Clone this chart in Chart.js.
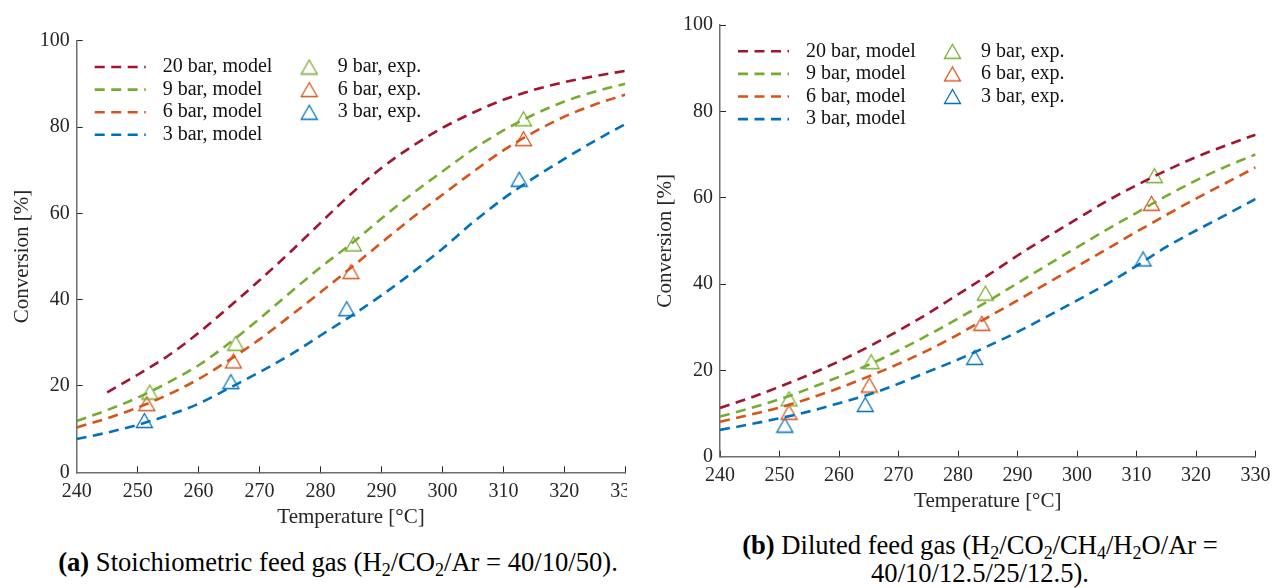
<!DOCTYPE html>
<html lang="en">
<head>
<meta charset="UTF-8">
<title>CO2 conversion vs. temperature</title>
<script src="https://cdn.jsdelivr.net/npm/chart.js"></script>
<style>
  body { margin: 0; background: #fff; width: 1284px; height: 588px; position: relative; overflow: hidden;
         font-family: "Liberation Serif", "DejaVu Serif", serif; }
  #panelA { position: absolute; left: 0; top: 0; width: 627px; height: 530px; overflow: hidden; }
  #panelB { position: absolute; left: 640px; top: 0; width: 644px; height: 514px; }
  .caption { position: absolute; font-size: 26.6px; line-height: 27.5px; color: #000; text-align: center; white-space: nowrap; }
  .caption sub { font-size: 18px; line-height: 0; vertical-align: -5px; }
  #capA { left: 38px; width: 600px; top: 549px; }
  #capB { left: 730px; width: 500px; top: 532px; }
</style>
</head>
<body>
<div id="panelA"><canvas id="chartA" width="660" height="530"></canvas></div>
<div id="panelB"><canvas id="chartB" width="644" height="514"></canvas></div>
<div class="caption" id="capA"><b>(a)</b> Stoichiometric feed gas (H<sub>2</sub>/CO<sub>2</sub>/Ar = 40/10/50).</div>
<div class="caption" id="capB"><b>(b)</b> Diluted feed gas (H<sub>2</sub>/CO<sub>2</sub>/CH<sub>4</sub>/H<sub>2</sub>O/Ar =<br>40/10/12.5/25/12.5).</div>

<script>
// model temperatures [°C]
const temps = [240, 245, 250, 255, 260, 265, 270, 275, 280, 285, 290, 295, 300, 305, 310, 315, 320, 325, 330];

// (a) stoichiometric feed, model conversion [%]
const a20 = [null, 18.5, 22.6, 27.0, 32.3, 38.3, 44.5, 51.0, 57.8, 64.5, 70.5, 75.5, 79.8, 83.3, 86.3, 88.6, 90.4, 91.8, 93.0];
const a9  = [11.9, 14.4, 17.3, 20.8, 24.8, 29.9, 35.6, 41.6, 47.5, 52.9, 58.8, 64.5, 69.7, 74.8, 79.2, 82.9, 85.9, 88.2, 90.0];
const a6  = [10.4, 12.5, 15.0, 18.0, 21.6, 26.0, 30.8, 36.2, 41.7, 47.4, 53.2, 58.9, 64.3, 69.6, 74.6, 78.8, 82.4, 85.2, 87.5];
const a3  = [7.7, 9.2, 11.0, 13.2, 15.9, 19.5, 23.2, 27.2, 31.7, 36.2, 41.0, 46.2, 51.8, 57.9, 63.4, 68.2, 72.6, 76.8, 80.7];

// (a) experiments
const aExp9T = [252.0, 266.1, 285.4, 313.3];
const aExp9  = [18.6, 29.9, 52.9, 81.9];
const aExp6T = [251.5, 265.7, 285.0, 313.3];
const aExp6  = [15.9, 25.8, 46.5, 77.3];
const aExp3T = [251.1, 265.3, 284.3, 312.6];
const aExp3  = [12.0, 21.0, 37.9, 67.9];

// (b) diluted feed, model conversion [%]
const b20 = [11.3, 13.6, 16.2, 19.0, 22.1, 25.5, 29.2, 33.2, 37.6, 42.0, 46.6, 50.9, 55.1, 59.2, 62.9, 66.3, 69.4, 72.1, 74.6];
const b9  = [9.3, 11.2, 13.3, 15.8, 18.5, 21.3, 24.6, 28.2, 32.0, 36.0, 40.2, 44.4, 48.5, 52.6, 56.5, 60.4, 64.0, 67.2, 70.0];
const b6  = [8.1, 9.7, 11.4, 13.5, 15.9, 18.6, 21.5, 24.7, 28.3, 32.3, 36.2, 40.2, 44.1, 48.1, 52.1, 56.0, 59.8, 63.4, 67.0];
const b3  = [6.2, 7.5, 8.9, 10.5, 12.4, 14.4, 16.9, 19.7, 22.5, 25.6, 28.9, 32.5, 36.2, 40.0, 44.2, 48.6, 52.4, 56.0, 59.7];

// (b) experiments
const bExp9T = [251.6, 265.4, 284.6, 313.0];
const bExp9  = [13.4, 22.0, 37.9, 65.1];
const bExp6T = [251.6, 265.1, 284.0, 312.5];
const bExp6  = [10.3, 16.6, 30.9, 58.7];
const bExp3T = [250.9, 264.4, 282.8, 311.1];
const bExp3  = [7.3, 12.1, 23.0, 45.8];

const xTicks = [240, 330, 10];
const yTicks = [0, 100, 20];

const RED = '#A2142F', GREEN = '#77AC30', ORANGE = '#D95319', BLUE = '#0072BD';
const SERIF = '"Liberation Serif", "DejaVu Serif", serif';

function pts(xs, ys) {
  const out = [];
  xs.forEach((x, i) => { if (ys[i] !== null) out.push({ x: x, y: ys[i] }); });
  return out;
}

// open triangle marker, centred on its bounding box
function triangleMark(color) {
  const c = document.createElement('canvas');
  c.width = 19; c.height = 17;
  const g = c.getContext('2d');
  g.strokeStyle = color;
  g.lineWidth = 1.3;
  g.beginPath();
  g.moveTo(9.5, 1.5);
  g.lineTo(17.5, 15.5);
  g.lineTo(1.5, 15.5);
  g.closePath();
  g.stroke();
  return c;
}

function model(label, color, ys) {
  return {
    label: label, data: pts(temps, ys),
    borderColor: color, borderWidth: 2.6, borderDash: [10, 6.5],
    pointRadius: 0, cubicInterpolationMode: 'monotone', fill: false
  };
}

function exp(label, color, xs, ys) {
  return {
    label: label, data: pts(xs, ys), showLine: false,
    pointStyle: triangleMark(color), pointRadius: 8, borderColor: color
  };
}

// two-column legend: dashed model lines left, triangles right
const pairLegend = {
  id: 'pairLegend',
  afterDatasetsDraw(chart) {
    const { ctx, chartArea } = chart;
    const x0 = chartArea.left, y0 = chartArea.top + 26.3, dy = 22.6;
    const ds = chart.data.datasets;
    ctx.save();
    ctx.font = '20px ' + SERIF;
    ctx.fillStyle = '#111';
    ctx.textBaseline = 'middle';
    ds.filter(d => d.showLine !== false).forEach((d, i) => {
      const y = y0 + i * dy;
      ctx.beginPath();
      ctx.setLineDash(d.borderDash);
      ctx.lineWidth = d.borderWidth;
      ctx.strokeStyle = d.borderColor;
      ctx.moveTo(x0 + 18, y);
      ctx.lineTo(x0 + 69, y);
      ctx.stroke();
      ctx.setLineDash([]);
      ctx.fillText(d.label, x0 + 86, y);
    });
    ds.filter(d => d.showLine === false).forEach((d, i) => {
      const y = y0 + i * dy;
      const m = d.pointStyle;
      ctx.drawImage(m, x0 + 232.5 - m.width / 2, y - m.height / 2);
      ctx.fillText(d.label, x0 + 261, y);
    });
    ctx.restore();
  }
};

function makeChart(id, series, dims) {
  new Chart(document.getElementById(id), {
    type: 'line',
    data: { datasets: series },
    options: {
      responsive: false,
      animation: false,
      events: [],
      layout: { padding: { left: 0, top: dims.top, right: dims.right, bottom: 0 } },
      plugins: { legend: { display: false }, tooltip: { enabled: false } },
      scales: {
        x: {
          type: 'linear', min: xTicks[0], max: xTicks[1],
          ticks: { stepSize: xTicks[2], color: '#262626', padding: 13.4, font: { family: SERIF, size: 20 } },
          grid: { drawOnChartArea: false, tickLength: -6, color: '#262626', tickWidth: 1 },
          border: { color: '#6e6e6e', width: 1.5 },
          title: { display: true, text: 'Temperature [°C]', color: '#262626',
                   font: { family: SERIF, size: 21 }, padding: { top: 0, bottom: 0.4 } },
          afterFit: s => { s.height = dims.xh; }
        },
        y: {
          type: 'linear', min: yTicks[0], max: yTicks[1],
          ticks: { stepSize: yTicks[2], color: '#262626', padding: 13, font: { family: SERIF, size: 20 } },
          grid: { drawOnChartArea: false, tickLength: -6, color: '#262626', tickWidth: 1 },
          border: { color: '#6e6e6e', width: 1.5 },
          title: { display: true, text: 'Conversion [%]', color: '#262626',
                   font: { family: SERIF, size: 21 }, padding: { top: dims.yt, bottom: 0 } },
          afterFit: s => { s.width = dims.yw; }
        }
      }
    },
    plugins: [pairLegend]
  });
}

makeChart('chartA', [
  model('20 bar, model', RED, a20),
  model('9 bar, model', GREEN, a9),
  model('6 bar, model', ORANGE, a6),
  model('3 bar, model', BLUE, a3),
  exp('9 bar, exp.', GREEN, aExp9T, aExp9),
  exp('6 bar, exp.', ORANGE, aExp6T, aExp6),
  exp('3 bar, exp.', BLUE, aExp3T, aExp3)
], { top: 40.7, right: 34.7, xh: 57.7, yw: 76.7, yt: 9.4 });

makeChart('chartB', [
  model('20 bar, model', RED, b20),
  model('9 bar, model', GREEN, b9),
  model('6 bar, model', ORANGE, b6),
  model('3 bar, model', BLUE, b3),
  exp('9 bar, exp.', GREEN, bExp9T, bExp9),
  exp('6 bar, exp.', ORANGE, bExp6T, bExp6),
  exp('3 bar, exp.', BLUE, bExp3T, bExp3)
], { top: 25, right: 15.7, xh: 57.3, yw: 80, yt: 12.4 });
</script>
</body>
</html>
